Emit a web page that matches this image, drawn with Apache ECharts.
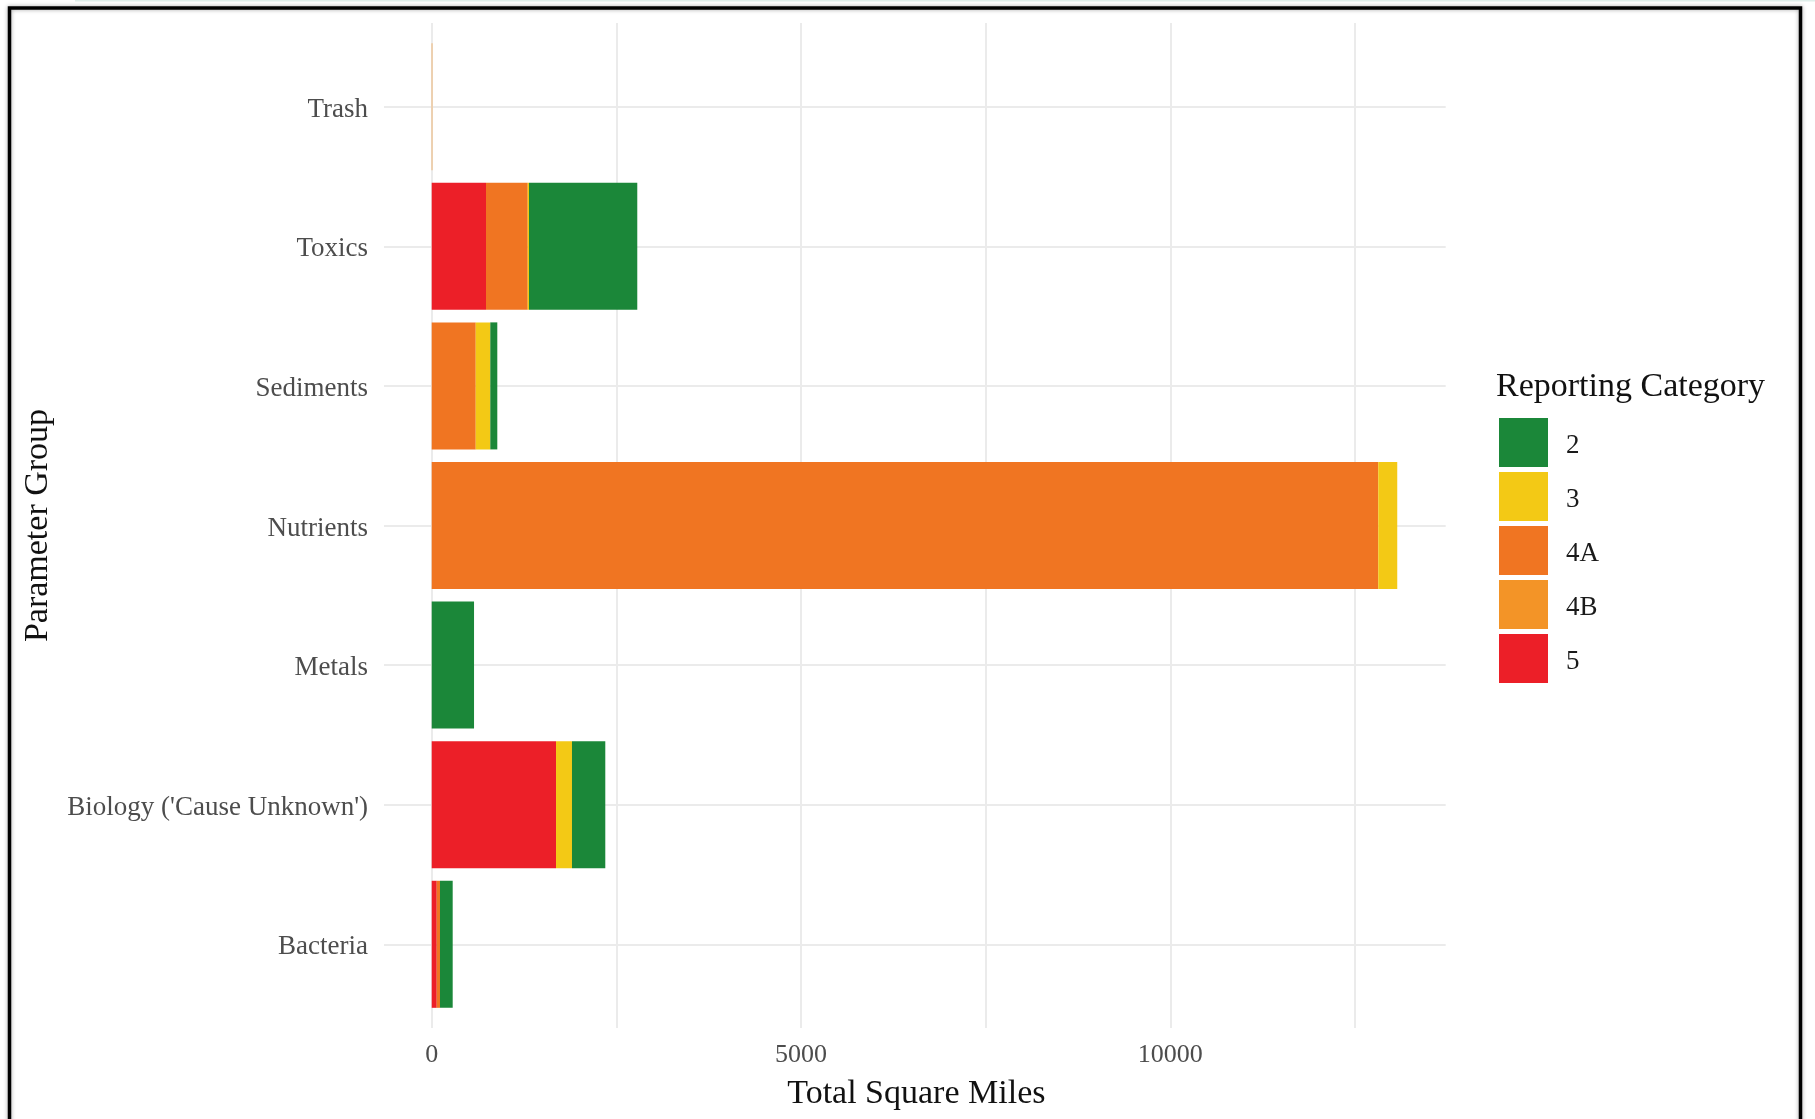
<!DOCTYPE html>
<html>
<head>
<meta charset="utf-8">
<script src="https://cdn.jsdelivr.net/npm/echarts@6/dist/echarts.min.js"></script>
<style>html,body{margin:0;padding:0;background:#fff;}#c{width:1815px;height:1119px;}</style>
</head>
<body>
<div id="c"></div>
<script>
// ---- data ----
const categories = ['Trash', 'Toxics', 'Sediments', 'Nutrients', 'Metals', "Biology ('Cause Unknown')", 'Bacteria'];
const legendOrder = ['2', '3', '4A', '4B', '5'];
const cat2  = [0, 1466, 95, 0, 573, 451, 172];
const cat3  = [0, 17, 197, 257, 0, 216, 0];
const cat4A = [0, 565, 596, 12815, 0, 0, 44];
const cat4B = [8, 0, 0, 0, 0, 0, 0];
const cat5  = [0, 735, 0, 0, 0, 1683, 68];
const xTicks = [0, 5000, 10000];
const xMinor = 2500;

const colors = {'2': '#1b8739', '3': '#f3c915', '4A': '#f07522', '4B': '#f39427', '5': '#ec1f28'};
const FONT = 'Liberation Serif';

// stacking order from left to right: 5, 4B, 4A, 3, 2
const stackSeries = [['5', cat5], ['4B', cat4B], ['4A', cat4A], ['3', cat3], ['2', cat2]];

const chart = echarts.init(document.getElementById('c'), null, {renderer: 'canvas'});
const gridColor = '#ebebeb';

const option = {
  animation: false,
  backgroundColor: '#fff',
  title: {
    text: 'Reporting Category',
    left: 1496, top: 370, padding: 0,
    textStyle: {fontFamily: FONT, fontSize: 34, fontWeight: 'normal', color: '#111'}
  },
  legend: {
    data: legendOrder,
    orient: 'vertical',
    left: 1499, top: 418,
    padding: 0,
    itemWidth: 49, itemHeight: 49, itemGap: 5,
    icon: 'rect',
    selectedMode: false,
    formatter: n => '{s|' + n + '}',
    textStyle: {
      fontFamily: FONT, fontSize: 27, color: '#1a1a1a', padding: [0, 0, 0, 13],
      rich: {s: {fontFamily: FONT, fontSize: 27, color: '#1a1a1a', padding: [6, 0, 0, 0]}}
    }
  },
  grid: [
    // bars
    {left: 384, right: 1815 - 1445.7, top: 36.9, bottom: 1119 - 1014.1, containLabel: false},
    // horizontal gridlines at category centers
    {left: 384, right: 1815 - 1445.7, top: 106.7, bottom: 1119 - 944.3, containLabel: false},
    // vertical gridlines and x tick labels
    {left: 431.7, right: 1815 - 1355, top: 22.9, bottom: 1119 - 1028, containLabel: false}
  ],
  xAxis: [
    {gridIndex: 0, type: 'value', min: -646, max: 13728, show: false, splitLine: {show: false}},
    {gridIndex: 1, type: 'value', min: 0, max: 1, show: false},
    {gridIndex: 2, type: 'value', min: 0, max: 12500, interval: xMinor,
      axisLine: {show: false}, axisTick: {show: false},
      axisLabel: {
        margin: 14, fontFamily: FONT, fontSize: 26, color: '#4d4d4d',
        formatter: v => (xTicks.indexOf(v) >= 0 ? String(v) : '')
      },
      splitLine: {show: true, lineStyle: {color: gridColor, width: 2}},
      name: 'Total Square Miles', nameLocation: 'middle', nameGap: 49,
      nameTextStyle: {fontFamily: FONT, fontSize: 34, color: '#111', padding: [0, 0, 0, 46]}
    }
  ],
  yAxis: [
    {gridIndex: 0, type: 'category', data: categories, inverse: true,
      axisLine: {show: false}, axisTick: {show: false}, splitLine: {show: false},
      axisLabel: {
        margin: 16, fontFamily: FONT, fontSize: 27, color: '#4d4d4d',
        formatter: v => '{s|' + v + '}',
        rich: {s: {fontFamily: FONT, fontSize: 27, color: '#4d4d4d', padding: [6, 0, 0, 0]}}
      },
      name: 'Parameter Group', nameLocation: 'middle', nameGap: 329, nameRotate: 90,
      nameTextStyle: {fontFamily: FONT, fontSize: 34, color: '#111'}
    },
    {gridIndex: 1, type: 'value', min: 0, max: 6, interval: 1,
      axisLine: {show: false}, axisTick: {show: false}, axisLabel: {show: false},
      splitLine: {show: true, lineStyle: {color: gridColor, width: 2}}
    },
    {gridIndex: 2, type: 'value', min: 0, max: 1, show: false, splitLine: {show: false}}
  ],
  series: stackSeries.map(([name, vals]) => ({
    name: name,
    type: 'bar',
    stack: 'total',
    xAxisIndex: 0, yAxisIndex: 0,
    barWidth: '91%',
    itemStyle: {color: colors[name]},
    emphasis: {disabled: true},
    data: vals
  })),
  graphic: [
    {type: 'rect', shape: {x: 75, y: 0, width: 1740, height: 1.5}, style: {fill: '#dfeeea'}, silent: true},
    {type: 'rect', shape: {x: 9.5, y: 8, width: 1791, height: 1200},
      style: {fill: null, stroke: '#000', lineWidth: 3.5, shadowBlur: 4, shadowColor: 'rgba(0,0,0,0.35)'}, silent: true, z: 100}
  ]
};
chart.setOption(option);
</script>
</body>
</html>
